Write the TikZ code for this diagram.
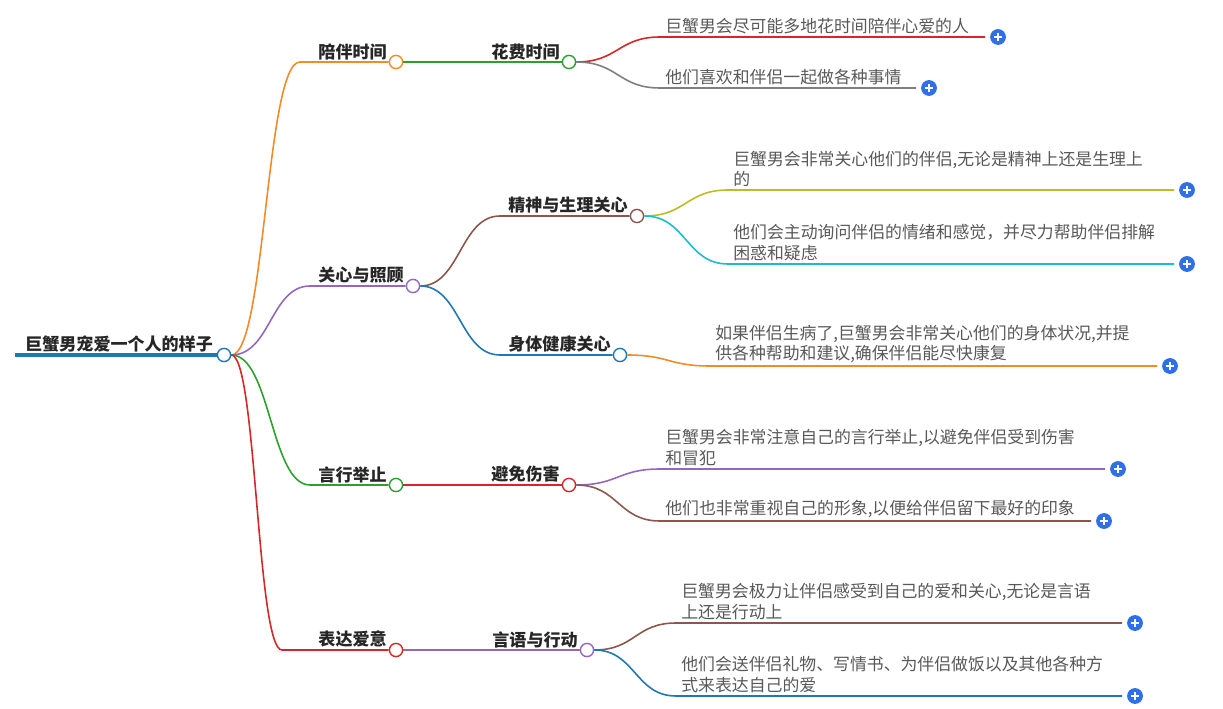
\documentclass[tikz,border=0pt]{standalone}
\usepackage{fontspec}
\setmainfont{Noto Sans CJK SC}
\definecolor{cOr}{HTML}{F28B24}
\definecolor{cPu}{HTML}{9467BD}
\definecolor{cGr}{HTML}{2CA02C}
\definecolor{cRe}{HTML}{D62728}
\definecolor{cBr}{HTML}{8C564B}
\definecolor{cBl}{HTML}{1F77B4}
\definecolor{cOl}{HTML}{BCBD22}
\definecolor{cCy}{HTML}{17BECF}
\definecolor{cGy}{HTML}{7F7F7F}
\definecolor{cPlus}{HTML}{2F6FE8}
\tikzset{
 lbl/.style={font=\fontsize{9.7pt}{11pt}\selectfont\bfseries, text=black!85, inner sep=0pt, anchor=south east},
 rootl/.style={font=\fontsize{9.7pt}{11pt}\selectfont\bfseries, text=black!85, inner sep=0pt, anchor=south west},
 leaf/.style={font=\fontsize{9.6pt}{11.6pt}\selectfont, text=black!65, inner sep=0pt, anchor=south west, align=left},
 dot/.style={circle, draw, fill=white, line width=0.8pt, minimum size=7.5pt, inner sep=0pt},
 plusc/.style={circle, fill=cPlus, minimum size=9pt, inner sep=0pt, path picture={\draw[white,line width=1pt] (path picture bounding box.center) ++(-2.2pt,0) -- ++(4.4pt,0) (path picture bounding box.center) ++(0,-2.2pt) -- ++(0,4.4pt);}},
 br/.style={line width=0.9pt}
}
\newcommand{\lvl}[7]{% name, linestart x, circle x, y, color, text, parent
 \coordinate (#1s) at (#2,#4);
 \node[dot,draw=#5] (#1) at (#3,#4) {};
 \node[lbl] (#1t) at (#3-9,#4-2) {#6};
 \draw[br,#5] (#7.east) .. controls ($(#7.east)!0.5!(#7.east -| #1s)$) and ($(#1s)!0.5!(#1s -| #7.east)$) .. (#1s) -- (#1.west);
}
\newcommand{\leafn}[7]{% name, x start, x end, y, color, text, parent
 \coordinate (#1s) at (#2,#4);
 \node[plusc] (#1p) at (#3+13,#4) {};
 \node[leaf] (#1t) at (#2+5,#4-3) {#6};
 \draw[br,#5] (#7.east) .. controls ($(#7.east)!0.5!(#7.east -| #1s)$) and ($(#1s)!0.5!(#1s -| #7.east)$) .. (#1s) -- (#3,#4);
}
\usetikzlibrary{calc}
\begin{document}
\begin{tikzpicture}[x=0.02cm,y=-0.02cm]
\useasboundingbox[fill=white] (0,0) rectangle (1223,709);
\draw[cBl,line width=2.4pt] (15,355) -- (218,355);
\node[dot,draw=cBl] (root) at (224,355) {};
\node[rootl] (roott) at (25,353) {巨蟹男宠爱一个人的样子};
\lvl{a}{300}{396}{62}{cOr}{陪伴时间}{root}
\lvl{b}{310}{413}{286}{cPu}{关心与照顾}{root}
\lvl{c}{310}{396}{485}{cGr}{言行举止}{root}
\lvl{d}{282}{396}{650}{cRe}{表达爱意}{root}
\lvl{a1}{472}{569}{62}{cGr}{花费时间}{a}
\lvl{b1}{500}{637}{216}{cBr}{精神与生理关心}{b}
\lvl{b2}{500}{620}{355}{cBl}{身体健康关心}{b}
\lvl{c1}{480}{569}{485}{cRe}{避免伤害}{c}
\lvl{d1}{480}{587}{650}{cPu}{言语与行动}{d}
\leafn{l1}{660}{985}{37}{cRe}{巨蟹男会尽可能多地花时间陪伴心爱的人}{a1}
\leafn{l2}{660}{916}{88}{cGy}{他们喜欢和伴侣一起做各种事情}{a1}
\leafn{l3}{728}{1174}{190}{cOl}{巨蟹男会非常关心他们的伴侣,无论是精神上还是生理上\\的}{b1}
\leafn{l4}{728}{1174}{264}{cCy}{他们会主动询问伴侣的情绪和感觉，并尽力帮助伴侣排解\\困惑和疑虑}{b1}
\leafn{l5}{710}{1157}{366}{cOr}{如果伴侣生病了,巨蟹男会非常关心他们的身体状况,并提\\供各种帮助和建议,确保伴侣能尽快康复}{b2}
\leafn{l6}{660}{1105}{469}{cPu}{巨蟹男会非常注意自己的言行举止,以避免伴侣受到伤害\\和冒犯}{c1}
\leafn{l7}{660}{1091}{521}{cBr}{他们也非常重视自己的形象,以便给伴侣留下最好的印象}{c1}
\leafn{l8}{676}{1122}{623}{cBr}{巨蟹男会极力让伴侣感受到自己的爱和关心,无论是言语\\上还是行动上}{d1}
\leafn{l9}{676}{1122}{696}{cBl}{他们会送伴侣礼物、写情书、为伴侣做饭以及其他各种方\\式来表达自己的爱}{d1}
\end{tikzpicture}
\end{document}
